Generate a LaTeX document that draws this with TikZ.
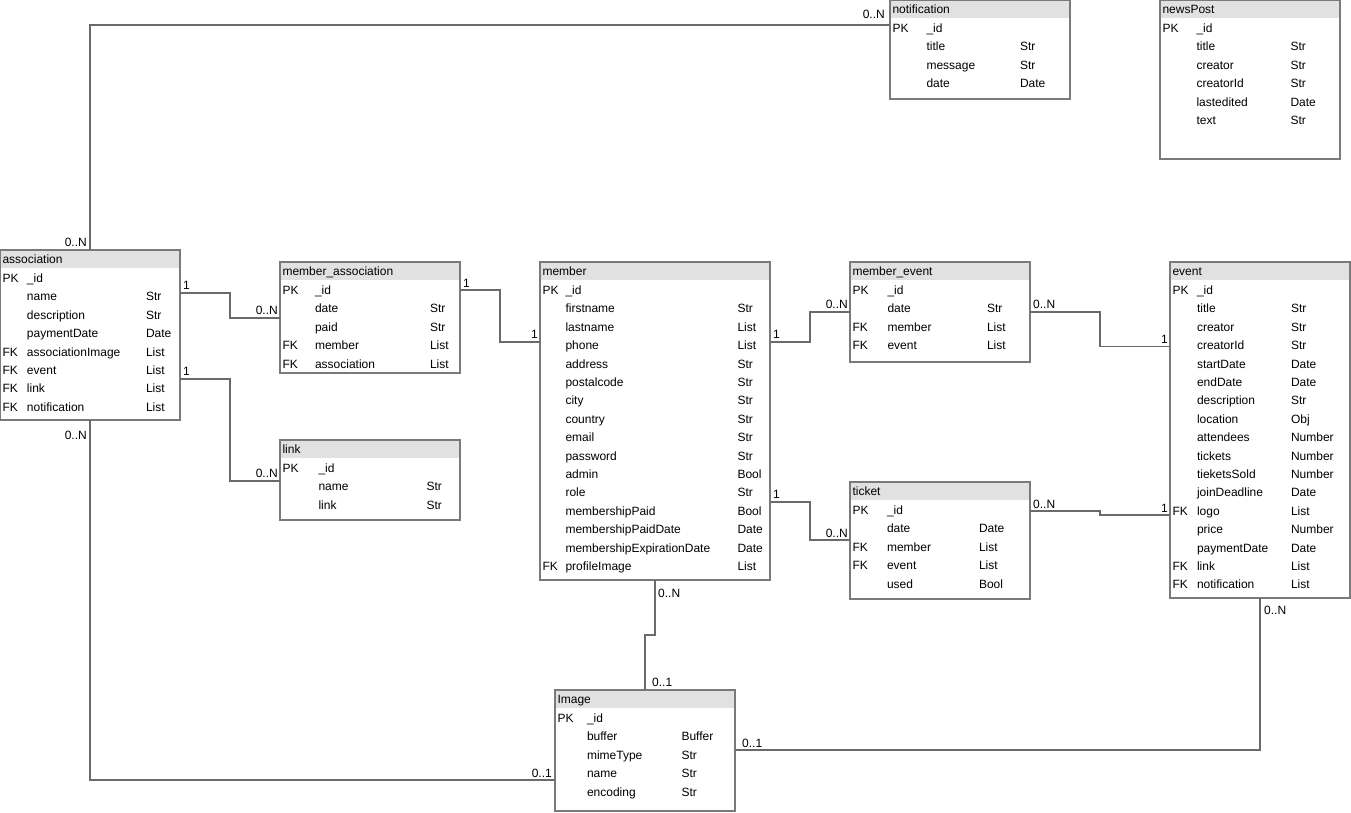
\documentclass[tikz,border=0pt]{standalone}
\usepackage{fontspec}
\setmainfont{Liberation Sans}
\definecolor{boxline}{HTML}{7A7A7A}
\definecolor{hdr}{HTML}{E1E1E1}
\definecolor{connline}{HTML}{6A6A6A}
\tikzset{
  tblbox/.style={rectangle, inner sep=0pt, outer sep=0pt, fill=white},
  tblborder/.style={draw=boxline, line width=1.2pt},
  hdrfill/.style={fill=hdr},
  txt/.style={anchor=base west, inner sep=0pt, outer sep=0pt, font=\fontsize{12}{14}\selectfont},
  lblw/.style={anchor=base west, inner sep=0pt, font=\fontsize{12}{14}\selectfont},
  lble/.style={anchor=base east, inner sep=0pt, font=\fontsize{12}{14}\selectfont},
  conn/.style={draw=connline, line width=1.1pt}
}
% #1 name, #2 x, #3 y, #4 w, #5 h, #6 title, #7 name offset, #8 type offset, #9 rows
\newcommand{\ertab}[9]{%
  \node[tblbox, minimum width=#4, minimum height=#5, anchor=north west] (#1) at (#2,#3) {};
  \fill[hdrfill] (#1.north west) rectangle ([yshift=-18pt]#1.north east);
  \draw[tblborder] (#1.north west) rectangle (#1.south east);
  \node[txt] (#1-title) at ({#2+2.5},{#3+13.5}) {#6};
  \foreach \k/\n/\t [count=\i from 0] in {#9} {
    \node[txt] (#1-k\i) at ({#2+2.5},{#3+32.5+18.4*\i}) {\k};
    \node[txt] (#1-n\i) at ({#2+#7},{#3+32.5+18.4*\i}) {\n};
    \node[txt] (#1-t\i) at ({#2+#8},{#3+32.5+18.4*\i}) {\t};
  }%
}
\begin{document}
\begin{tikzpicture}[x=1pt,y=-1pt]
\useasboundingbox (0,0) rectangle (1351,813);
\fill[white] (0,0) rectangle (1351,813);

\ertab{assoc}{0}{250}{180}{170}{association}{27}{146}{PK/\_id/, /name/Str, /description/Str, /paymentDate/Date, FK/associationImage/List, FK/event/List, FK/link/List, FK/notification/List}
\ertab{massoc}{280}{262}{180}{111}{member\_association}{35}{150}{PK/\_id/, /date/Str, /paid/Str, FK/member/List, FK/association/List}
\ertab{member}{540}{262}{230}{318}{member}{25.5}{197.5}{PK/\_id/, /firstname/Str, /lastname/List, /phone/List, /address/Str, /postalcode/Str, /city/Str, /country/Str, /email/Str, /password/Str, /admin/Bool, /role/Str, /membershipPaid/Bool, /membershipPaidDate/Date, /membershipExpirationDate/Date, FK/profileImage/List}
\ertab{mevent}{850}{262}{180}{100}{member\_event}{37.5}{137}{PK/\_id/, /date/Str, FK/member/List, FK/event/List}
\ertab{event}{1170}{262}{180}{336}{event}{27}{121}{PK/\_id/, /title/Str, /creator/Str, /creatorId/Str, /startDate/Date, /endDate/Date, /description/Str, /location/Obj, /attendees/Number, /tickets/Number, /tieketsSold/Number, /joinDeadline/Date, FK/logo/List, /price/Number, /paymentDate/Date, FK/link/List, FK/notification/List}
\ertab{ticket}{850}{482}{180}{117}{ticket}{37}{129}{PK/\_id/, /date/Date, FK/member/List, FK/event/List, /used/Bool}
\ertab{link}{280}{440}{180}{80}{link}{38.5}{146.5}{PK/\_id/, /name/Str, /link/Str}
\ertab{img}{555}{690}{180}{121}{Image}{32}{126.5}{PK/\_id/, /buffer/Buffer, /mimeType/Str, /name/Str, /encoding/Str}
\ertab{notif}{890}{0}{180}{99}{notification}{36.5}{130}{PK/\_id/, /title/Str, /message/Str, /date/Date}
\ertab{news}{1160}{0}{180}{159}{newsPost}{36.5}{130.5}{PK/\_id/, /title/Str, /creator/Str, /creatorId/Str, /lastedited/Date, /text/Str}

% connectors
\draw[conn] (assoc.north) |- ([yshift=-25pt]notif.north west);
\draw[conn] ([yshift=-43pt]assoc.north east) -- ++(50,0) |- ([yshift=-56pt]massoc.north west);
\draw[conn] ([yshift=-129pt]assoc.north east) -- ++(50,0) |- ([yshift=-41pt]link.north west);
\draw[conn] (assoc.south) |- ([yshift=-90pt]img.north west);
\draw[conn] ([yshift=-28pt]massoc.north east) -- ++(40,0) |- ([yshift=-80pt]member.north west);
\draw[conn] ([yshift=-80pt]member.north east) -- ++(40,0) |- ([yshift=-50pt]mevent.north west);
\draw[conn] ([yshift=-50pt]mevent.north east) -- ++(70,0) |- ([yshift=-84.5pt]event.north west);
\draw[conn] ([yshift=-240pt]member.north east) -- ++(40,0) |- ([yshift=-58pt]ticket.north west);
\draw[conn] ([yshift=-29pt]ticket.north east) -- ++(70,0) |- ([yshift=-253pt]event.north west);
\draw[conn] (member.south) -- ++(0,55) -| ([xshift=90pt]img.north west);
\draw[conn] ([yshift=-60pt]img.north east) -| ([xshift=90pt]event.south west);

% labels
\node[lble] (l1) at (87,246) {0..N};
\node[lble] (l2) at (885,19) {0..N};
\node[lblw] (l3) at (183,289) {1};
\node[lble] (l4) at (278,314) {0..N};
\node[lblw] (l5) at (183,375) {1};
\node[lble] (l6) at (278,477) {0..N};
\node[lble] (l7) at (87,439) {0..N};
\node[lble] (l8) at (552,777) {0..1};
\node[lblw] (l9) at (463,287) {1};
\node[lble] (l10) at (538,338) {1};
\node[lblw] (l11) at (773,338) {1};
\node[lble] (l12) at (848,308) {0..N};
\node[lblw] (l13) at (1033,308) {0..N};
\node[lble] (l14) at (1168,343) {1};
\node[lblw] (l15) at (773,498) {1};
\node[lble] (l16) at (848,537) {0..N};
\node[lblw] (l17) at (1033,508) {0..N};
\node[lble] (l18) at (1168,512) {1};
\node[lblw] (l19) at (658,597) {0..N};
\node[lblw] (l20) at (652,686) {0..1};
\node[lblw] (l21) at (742,747) {0..1};
\node[lblw] (l22) at (1264,614) {0..N};
\end{tikzpicture}
\end{document}
